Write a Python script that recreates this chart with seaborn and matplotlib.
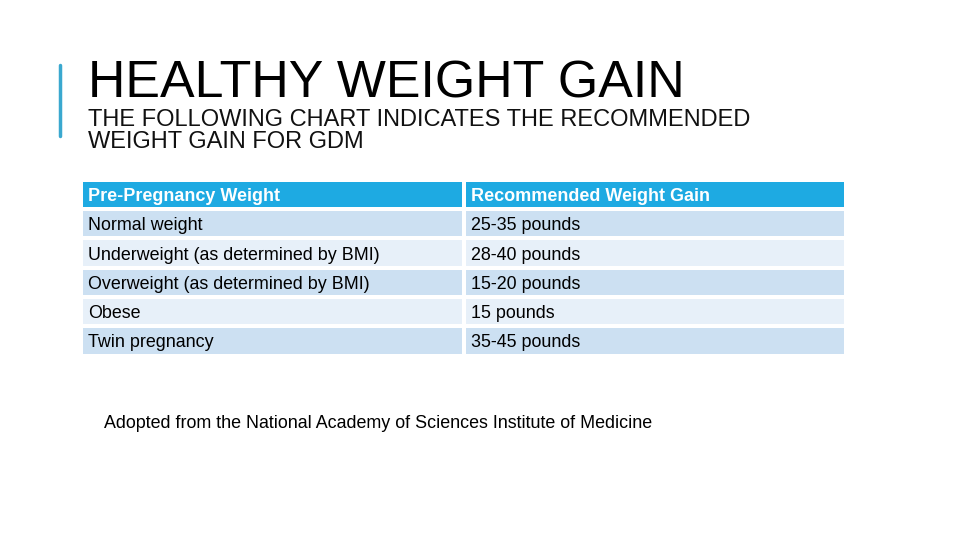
import numpy as np
import matplotlib
matplotlib.use("Agg")
import matplotlib.pyplot as plt
from matplotlib.colors import ListedColormap
import seaborn as sns

# table content
col_headers = ["Pre-Pregnancy Weight", "Recommended Weight Gain"]
categories = ["Normal weight", "Underweight (as determined by BMI)",
              "Overweight (as determined by BMI)", "Obese", "Twin pregnancy"]
gains = ["25-35 pounds", "28-40 pounds", "15-20 pounds", "15 pounds", "35-45 pounds"]

title = "HEALTHY WEIGHT GAIN"
subtitle_lines = ["THE FOLLOWING CHART INDICATES THE RECOMMENDED", "WEIGHT GAIN FOR GDM"]
source = "Adopted from the National Academy of Sciences Institute of Medicine"

sns.set_style("white")
plt.rcParams["font.family"] = ["Liberation Sans", "DejaVu Sans"]

# row shading: 0 = header, 1 = dark band, 2 = light band
shade = [0] + [1 if i % 2 == 0 else 2 for i in range(len(categories))]
grid = np.array([[s, s] for s in shade])
cmap = ListedColormap(["#1EAAE2", "#CCE0F2", "#E7F0F9"])

fig = plt.figure(figsize=(9.6, 5.4), dpi=100)
W, H = 960, 540
ax = fig.add_axes([81 / W, 1 - 355.5 / H, (846 - 81) / W, (355.5 - 180) / H])
sns.heatmap(grid, cmap=cmap, vmin=-0.5, vmax=2.5, cbar=False, ax=ax,
            linewidths=1.5, linecolor="white", xticklabels=False, yticklabels=False)

# small downward nudge so text sits like the original cells
dy = 0.07
for j, h in enumerate(col_headers):
    ax.text(j + 0.0185, 0.5 + dy, h, ha="left", va="center", fontsize=13,
            fontweight="bold", color="white")
for i, (c, g) in enumerate(zip(categories, gains)):
    ax.text(0.0185, i + 1.5 + dy, c, ha="left", va="center", fontsize=12.9, color="black")
    ax.text(1.0185, i + 1.5 + dy, g, ha="left", va="center", fontsize=12.9, color="black")

# slide decoration
fig.add_artist(plt.Line2D([60 / W, 60 / W], [1 - 65 / H, 1 - 136 / H],
                          color="#3AA8CF", lw=2.5))
fig.text(88 / W, 1 - 98 / H, title, fontsize=37.4, ha="left", va="baseline", color="black")
for k, line in enumerate(subtitle_lines):
    fig.text(88 / W, 1 - (125.7 + 22 * k) / H, line, fontsize=17, ha="left",
             va="baseline", color="#111111")
fig.text(104 / W, 1 - 424 / H, source, fontsize=12.9, ha="left", va="center", color="black")

fig.savefig("out.png", dpi=100)
